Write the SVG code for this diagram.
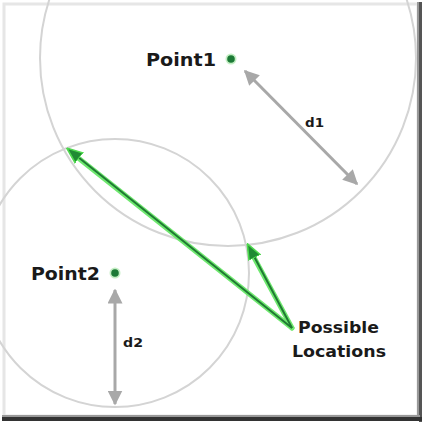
<svg xmlns="http://www.w3.org/2000/svg" width="425" height="423" viewBox="0 0 425 423">
<defs>
<style>
.lbl{font-family:"DejaVu Sans",Verdana,sans-serif;font-weight:bold;fill:#1a1a1a}
.circ{fill:none;stroke:#d4d4d4;stroke-width:2}
.dim{stroke:#a8a8a8;stroke-width:3;fill:none}
.glow{stroke:#6fe86f;stroke-width:5;fill:none;stroke-linecap:round}
.grn{stroke:#1f7a33;stroke-width:2;fill:none}
</style>
<marker id="ga" viewBox="0 0 10 10" refX="9" refY="5" markerWidth="5" markerHeight="5" orient="auto-start-reverse" markerUnits="strokeWidth">
<path d="M0,0 L10,5 L0,10 z" fill="#a8a8a8"/>
</marker>
<marker id="gr" viewBox="0 0 10 10" refX="9" refY="5" markerWidth="8" markerHeight="8" orient="auto" markerUnits="strokeWidth">
<path d="M0,1 L10,5 L0,9 z" fill="#1f8a33" stroke="#4fd84f" stroke-width="1"/>
</marker>
</defs>
<rect x="0" y="0" width="425" height="423" fill="#ffffff"/>
<g id="frame">
<rect x="4" y="4" width="414" height="412" fill="none" stroke="#e6e6e6" stroke-width="3"/>
<line x1="418" y1="2" x2="418" y2="420" stroke="#999" stroke-width="2"/>
<line x1="420.5" y1="2" x2="420.5" y2="422" stroke="#555" stroke-width="3"/>
<line x1="2" y1="416" x2="420" y2="416" stroke="#999" stroke-width="2"/>
<line x1="2" y1="419" x2="422" y2="419" stroke="#333" stroke-width="4"/>
</g>
<g id="circles">
<circle class="circ" cx="228" cy="58" r="188"/>
<circle class="circ" cx="115" cy="273" r="134"/>
</g>
<g id="connectors">
<line class="dim" x1="245" y1="71" x2="357" y2="184" marker-start="url(#ga)" marker-end="url(#ga)"/>
<line class="dim" x1="115" y1="290" x2="115" y2="404" marker-start="url(#ga)" marker-end="url(#ga)"/>
<line class="glow" x1="292" y1="328" x2="72" y2="153"/>
<line class="glow" x1="292" y1="328" x2="250" y2="250"/>
<line class="grn" x1="292" y1="328" x2="68" y2="149" marker-end="url(#gr)"/>
<line class="grn" x1="292" y1="328" x2="248" y2="245" marker-end="url(#gr)"/>
</g>
<g id="point1">
<circle cx="231" cy="59" r="5.5" fill="#9be39b" opacity="0.6"/>
<circle cx="231" cy="59" r="3.8" fill="#1c7a36"/>
<text class="lbl" x="146" y="66" font-size="18" textLength="70" lengthAdjust="spacingAndGlyphs">Point1</text>
</g>
<g id="point2">
<circle cx="115" cy="273" r="5.5" fill="#9be39b" opacity="0.6"/>
<circle cx="115" cy="273" r="3.8" fill="#1c7a36"/>
<text class="lbl" x="31" y="280" font-size="18" textLength="69" lengthAdjust="spacingAndGlyphs">Point2</text>
</g>
<g id="d1">
<text class="lbl" x="305" y="127" font-size="12" textLength="19" lengthAdjust="spacingAndGlyphs">d1</text>
</g>
<g id="d2">
<text class="lbl" x="123" y="347" font-size="12" textLength="20" lengthAdjust="spacingAndGlyphs">d2</text>
</g>
<g id="possible">
<text class="lbl" x="298" y="333" font-size="16" textLength="81" lengthAdjust="spacingAndGlyphs">Possible</text>
<text class="lbl" x="292" y="357" font-size="16" textLength="94" lengthAdjust="spacingAndGlyphs">Locations</text>
</g>
</svg>
